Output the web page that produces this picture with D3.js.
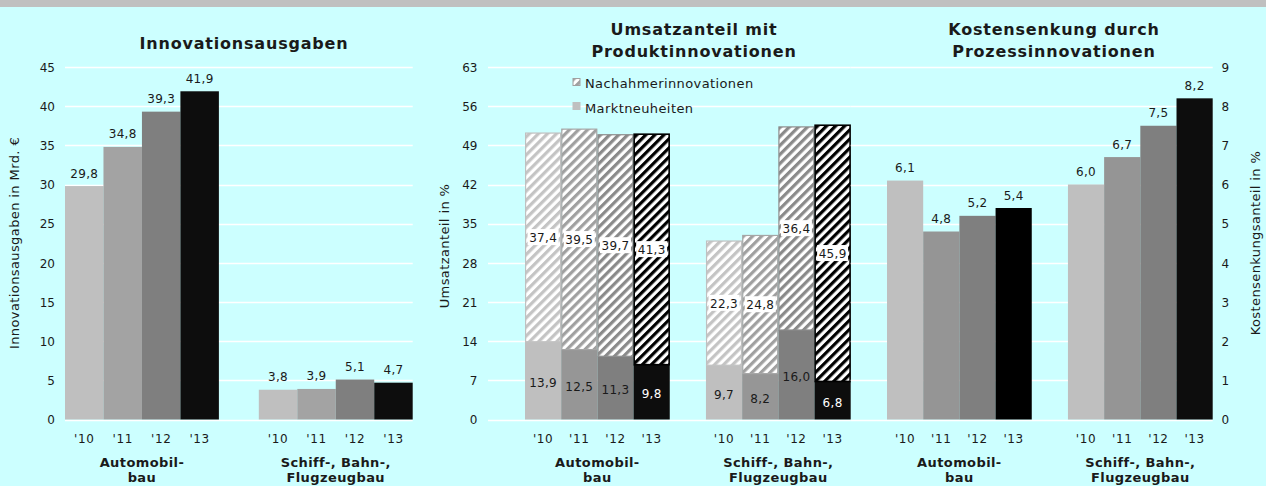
<!DOCTYPE html>
<html>
<head>
<meta charset="utf-8">
<script src="https://cdn.jsdelivr.net/npm/d3@7"></script>
<style>
    body { margin: 0; background: #ccffff; }
    svg text { font-family: "DejaVu Sans", Verdana, sans-serif; fill: #1a1a1a; }
</style>
</head>
<body>
<div id="chart"></div>
<script>
// --- data ---
const years = ["'10", "'11", "'12", "'13"];
const branches = ["Automobilbau", "Schiff-, Bahn-, Flugzeugbau"];
const branchLines = [["Automobil-", "bau"], ["Schiff-, Bahn-,", "Flugzeugbau"]];

const ausgabenAuto = [29.8, 34.8, 39.3, 41.9];
const ausgabenSchiff = [3.8, 3.9, 5.1, 4.7];
const ausgabenTicks = [0, 5, 10, 15, 20, 25, 30, 35, 40, 45];

const marktAuto = [13.9, 12.5, 11.3, 9.8];
const nachahmerAuto = [37.4, 39.5, 39.7, 41.3];
const marktSchiff = [9.7, 8.2, 16.0, 6.8];
const nachahmerSchiff = [22.3, 24.8, 36.4, 45.9];
const umsatzTicks = [0, 7, 14, 21, 28, 35, 42, 49, 56, 63];

const kostenAuto = [6.1, 4.8, 5.2, 5.4];
const kostenSchiff = [6.0, 6.7, 7.5, 8.2];
const kostenTicks = [0, 1, 2, 3, 4, 5, 6, 7, 8, 9];

(function () {
    const W = 1266, H = 486;
    const yTop = 67, yBottom = 419.5;
    const fmt = v => d3.format('.1f')(v).replace('.', ',');

    var svg = d3.select('#chart')
        .append('svg')
        .attr('width', W)
        .attr('height', H);

    svg.append('rect').attr('width', W).attr('height', H).attr('fill', '#ccffff');
    svg.append('rect').attr('width', W).attr('height', 7).attr('fill', '#c0c0c0');

    // stripe patterns for Nachahmerinnovationen
    var defs = svg.append('defs');
    const stripeColors = ['#c4c4c4', '#a0a0a0', '#8a8a8a', '#000000'];
    stripeColors.forEach((c, i) => {
        let p = defs.append('pattern')
            .attr('id', 'stripe' + i)
            .attr('patternUnits', 'userSpaceOnUse')
            .attr('width', 6.4)
            .attr('height', 6.4)
            .attr('patternTransform', 'rotate(45)');
        p.append('rect').attr('width', 6.4).attr('height', 6.4).attr('fill', '#fff');
        p.append('rect').attr('width', 3.2).attr('height', 6.4).attr('fill', c);
    });

    function drawGrid(y, ticks, x0, x1) {
        svg.append('g')
            .selectAll('line')
            .data(ticks)
            .enter()
            .append('line')
            .attr('x1', x0)
            .attr('x2', x1)
            .attr('y1', d => Math.round(y(d)) + 0.5)
            .attr('y2', d => Math.round(y(d)) + 0.5)
            .attr('stroke', '#ffffff')
            .attr('stroke-width', 1.3);
    }

    function drawYAxis(y, ticks, xPos, right) {
        var axis = (right ? d3.axisRight(y) : d3.axisLeft(y))
            .tickValues(ticks)
            .tickSize(0)
            .tickPadding(0);
        var g = svg.append('g')
            .attr('transform', `translate(${xPos},0)`)
            .call(axis);
        g.select('.domain').remove();
        g.selectAll('text')
            .attr('font-family', '"DejaVu Sans", sans-serif')
            .attr('font-size', 12)
            .attr('fill', '#1a1a1a')
            .attr('dy', '0.36em');
    }

    function drawYTitle(text, x, yc) {
        svg.append('text')
            .attr('transform', `translate(${x},${yc}) rotate(-90)`)
            .attr('text-anchor', 'middle')
            .attr('font-size', 13)
            .attr('letter-spacing', 0.4)
            .text(text);
    }

    function drawTitle(lines, cx, baseline) {
        lines.forEach((l, i) => {
            svg.append('text')
                .attr('x', cx)
                .attr('y', baseline + i * 22)
                .attr('text-anchor', 'middle')
                .attr('font-size', 16)
                .attr('font-weight', 'bold')
                .attr('letter-spacing', 0.8)
                .text(l);
        });
    }

    function drawXLabels(x0, x1) {
        branches.forEach((b, bi) => {
            var g = svg.append('g')
                .attr('transform', `translate(${x0(b)},${yBottom})`)
                .call(d3.axisBottom(x1).tickSize(0).tickPadding(15));
            g.select('.domain').remove();
            g.selectAll('text')
                .attr('font-family', '"DejaVu Sans", sans-serif')
                .attr('font-size', 12)
                .attr('letter-spacing', 0.6)
                .attr('fill', '#1a1a1a');

            branchLines[bi].forEach((l, li) => {
                svg.append('text')
                    .attr('x', x0(b) + x0.bandwidth() / 2)
                    .attr('y', 466.5 + li * 15.5)
                    .attr('text-anchor', 'middle')
                    .attr('font-size', 13)
                    .attr('font-weight', 'bold')
                    .attr('letter-spacing', 0.4)
                    .text(l);
            });
        });
    }

    // simple grouped bars with labels above
    function plotBars(opts) {
        var y = d3.scaleLinear().domain(opts.domain).range([yBottom, yTop]);
        var x0 = d3.scaleBand()
            .domain(branches)
            .range(opts.barRange)
            .paddingInner(opts.padding)
            .paddingOuter(0);
        var x1 = d3.scaleBand().domain(years).range([0, x0.bandwidth()]).padding(0);

        drawGrid(y, opts.ticks, opts.gridRange[0], opts.gridRange[1]);

        opts.series.forEach((vals, bi) => {
            var g = svg.append('g')
                .attr('transform', `translate(${x0(branches[bi])},0)`);
            g.selectAll('rect')
                .data(vals)
                .enter()
                .append('rect')
                .attr('x', (d, i) => x1(years[i]))
                .attr('width', x1.bandwidth())
                .attr('y', d => y(d))
                .attr('height', d => yBottom - y(d))
                .attr('fill', (d, i) => opts.colors[bi][i]);
            g.selectAll('text')
                .data(vals)
                .enter()
                .append('text')
                .attr('x', (d, i) => x1(years[i]) + x1.bandwidth() / 2)
                .attr('y', d => y(d) - 8.5)
                .attr('text-anchor', 'middle')
                .attr('font-size', 12)
                .attr('letter-spacing', 0.3)
                .text(fmt);
        });

        drawXLabels(x0, x1);
        return y;
    }

    // --- Innovationsausgaben ---
    var yA = plotBars({
        domain: [0, 45],
        ticks: ausgabenTicks,
        barRange: [65, 412.7],
        padding: 0.206,
        gridRange: [65, 412.7],
        series: [ausgabenAuto, ausgabenSchiff],
        colors: [['#bfbfbf', '#a3a3a3', '#7f7f7f', '#0d0d0d'], ['#bfbfbf', '#a3a3a3', '#7f7f7f', '#0d0d0d']]
    });
    drawYAxis(yA, ausgabenTicks, 55, false);
    drawYTitle('Innovationsausgaben in Mrd. €', 18.5, 243);
    drawTitle(['Innovationsausgaben'], 244, 48.5);

    // --- Umsatzanteil mit Produktinnovationen (stacked) ---
    var yU = d3.scaleLinear().domain([0, 63]).range([yBottom, yTop]);
    var xU = d3.scaleBand().domain(branches).range([525, 850.7]).paddingInner(0.2).paddingOuter(0);
    var xU1 = d3.scaleBand().domain(years).range([0, xU.bandwidth()]).padding(0);
    const solidU = ['#bfbfbf', '#969696', '#7f7f7f', '#0d0d0d'];
    const borderU = ['#c0c0c0', '#a6a6a6', '#8c8c8c', '#000000'];

    drawGrid(yU, umsatzTicks, 488, 850.7);

    [[marktAuto, nachahmerAuto], [marktSchiff, nachahmerSchiff]].forEach((pair, bi) => {
        var rows = years.map((yr, i) => ({ yr: yr, i: i, markt: pair[0][i], nach: pair[1][i] }));
        var g = svg.append('g')
            .attr('transform', `translate(${xU(branches[bi])},0)`);

        g.selectAll('rect.markt')
            .data(rows)
            .enter()
            .append('rect')
            .attr('class', 'markt')
            .attr('x', d => xU1(d.yr))
            .attr('width', xU1.bandwidth())
            .attr('y', d => yU(d.markt))
            .attr('height', d => yBottom - yU(d.markt))
            .attr('fill', d => solidU[d.i]);

        g.selectAll('rect.nach')
            .data(rows)
            .enter()
            .append('rect')
            .attr('class', 'nach')
            .attr('x', d => xU1(d.yr) + 0.6)
            .attr('width', xU1.bandwidth() - 1.2)
            .attr('y', d => yU(d.markt + d.nach) + 0.6)
            .attr('height', d => yU(d.markt) - yU(d.markt + d.nach) - 0.6)
            .attr('fill', d => `url(#stripe${d.i})`)
            .attr('stroke', d => borderU[d.i])
            .attr('stroke-width', d => d.i == 3 ? 1.6 : 1.2);

        g.selectAll('text.markt')
            .data(rows)
            .enter()
            .append('text')
            .attr('class', 'markt')
            .attr('x', d => xU1(d.yr) + xU1.bandwidth() / 2)
            .attr('y', d => yU(d.markt / 2))
            .attr('dy', '0.52em')
            .attr('text-anchor', 'middle')
            .attr('font-size', 12)
            .attr('letter-spacing', 0.3)
            .style('fill', d => d.i == 3 ? '#ffffff' : '#1a1a1a')
            .text(d => fmt(d.markt));

        var labs = g.selectAll('g.nachlab')
            .data(rows)
            .enter()
            .append('g')
            .attr('class', 'nachlab')
            .attr('transform', d => `translate(${xU1(d.yr) + xU1.bandwidth() / 2},${yU(d.markt + d.nach / 2)})`);
        labs.append('rect')
            .attr('x', -15.5)
            .attr('y', -8)
            .attr('width', 31)
            .attr('height', 16)
            .attr('fill', '#ffffff');
        labs.append('text')
            .attr('dy', '0.4em')
            .attr('text-anchor', 'middle')
            .attr('font-size', 12)
            .attr('letter-spacing', 0.3)
            .text(d => fmt(d.nach));
    });

    drawXLabels(xU, xU1);
    drawYAxis(yU, umsatzTicks, 477.5, false);
    drawYTitle('Umsatzanteil in %', 449, 246);
    drawTitle(['Umsatzanteil mit', 'Produktinnovationen'], 694, 35);

    // legend
    var legend = svg.append('g').attr('transform', 'translate(572.5,78)');
    legend.append('rect')
        .attr('x', 0.5).attr('y', 0.5).attr('width', 7).attr('height', 7)
        .attr('fill', 'url(#stripe1)')
        .attr('stroke', '#a0a0a0');
    legend.append('text')
        .attr('x', 12.5).attr('y', 9.5)
        .attr('font-size', 13)
        .attr('letter-spacing', 0.4)
        .text('Nachahmerinnovationen');
    legend.append('rect')
        .attr('x', 0).attr('y', 24).attr('width', 8).attr('height', 8)
        .attr('fill', '#bfbfbf');
    legend.append('text')
        .attr('x', 12.5).attr('y', 34.5)
        .attr('font-size', 13)
        .attr('letter-spacing', 0.4)
        .text('Marktneuheiten');

    // --- Kostensenkung durch Prozessinnovationen ---
    var yK = plotBars({
        domain: [0, 9],
        ticks: kostenTicks,
        barRange: [887, 1212.7],
        padding: 0.2,
        gridRange: [850.7, 1212.7],
        series: [kostenAuto, kostenSchiff],
        colors: [['#bfbfbf', '#959595', '#7f7f7f', '#000000'], ['#bfbfbf', '#959595', '#7f7f7f', '#0d0d0d']]
    });
    drawYAxis(yK, kostenTicks, 1221.5, true);
    drawYTitle('Kostensenkungsanteil in %', 1260, 243);
    drawTitle(['Kostensenkung durch', 'Prozessinnovationen'], 1054, 35);
})();
</script>
</body>
</html>
